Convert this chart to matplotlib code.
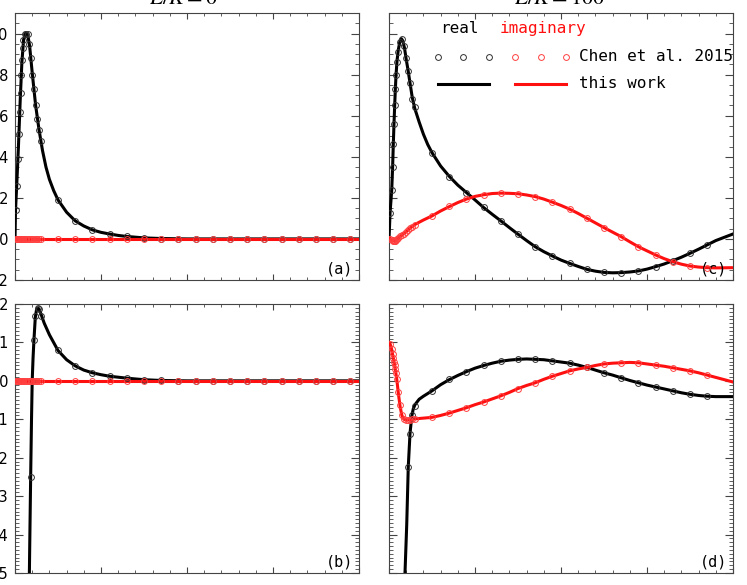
import numpy as np
import matplotlib
matplotlib.use("Agg")
import matplotlib.pyplot as plt
from matplotlib.ticker import MultipleLocator, FormatStrFormatter

plt.rcParams['mathtext.fontset'] = 'stix'

# ---- data ----
# sparse sample positions of the Chen et al. 2015 points
x_sparse_l = [2.5, 3.5, 4.5, 5.5, 6.5, 7.5, 8.5, 9.5, 10.5, 11.5, 12.5, 13.5,
              14.5, 15.5, 16.5, 17.5, 18.5, 19.5]
x_sparse_r = [2.5, 3.5, 4.5, 5.5, 6.5, 7.5, 8.5, 9.5, 10.5, 11.5, 12.5, 13.5,
              14.5, 15.5, 16.5, 17.5, 18.5]

# panel (a)  E/K = 0, upper quantity
a_dense_x = [0.03, 0.10, 0.17, 0.22, 0.27, 0.32, 0.37, 0.41, 0.45, 0.49, 0.56,
             0.64, 0.74, 0.83, 0.91, 1.01, 1.10, 1.20, 1.30, 1.40, 1.49]
a_re_dense = [0.14, 0.26, 0.39, 0.51, 0.62, 0.71, 0.80, 0.87, 0.93, 0.97, 1.00,
              1.00, 1.00, 0.95, 0.88, 0.80, 0.73, 0.65, 0.585, 0.53, 0.475]
a_im_dense = [0.0] * 21
a_re_sparse = [0.19, 0.088, 0.044, 0.024, 0.012, 0.005, 0.002, 0.0, 0.0, 0.0,
               0.0, 0.0, 0.0, 0.0, 0.0, 0.0, 0.0, 0.0]
a_im_sparse = [0.0] * 18
a_re_line_x = [0, 0.03, 0.1, 0.2, 0.3, 0.4, 0.5, 0.6, 0.68, 0.75, 0.85, 1.0, 1.2,
               1.4, 1.6, 1.8, 2.0, 2.25, 2.5, 3.0, 3.5, 4.0, 4.5, 5.0, 5.5, 6.0,
               6.5, 7.5, 8.5, 10, 20]
a_re_line = [0, 0.14, 0.26, 0.45, 0.67, 0.86, 0.97, 1.0, 1.0, 0.99, 0.94, 0.81,
             0.65, 0.53, 0.43, 0.35, 0.29, 0.235, 0.19, 0.13, 0.088, 0.063,
             0.044, 0.032, 0.024, 0.017, 0.012, 0.005, 0.002, 0.0, 0.0]
a_im_line_x = [0, 20]
a_im_line = [0.0, 0.0]

# panel (b)  E/K = 0, lower quantity
b_dense_x = [0.91, 1.01, 1.10, 1.18, 1.32, 1.41, 1.53]
b_re_dense = [-0.25, 0.0, 0.106, 0.17, 0.19, 0.187, 0.17]
b_im_dense_x = a_dense_x
b_im_dense = [0.0] * 21
b_re_sparse = [0.079, 0.039, 0.021, 0.012, 0.007, 0.003, 0.001, 0.0, 0.0, 0.0,
               0.0, 0.0, 0.0, 0.0, 0.0, 0.0, 0.0, 0.0]
b_im_sparse = [0.0] * 18
b_re_line_x = [0.78, 0.85, 0.91, 0.96, 1.0, 1.05, 1.1, 1.18, 1.25, 1.32, 1.4,
               1.5, 1.7, 2.0, 2.5, 3.0, 3.5, 4.0, 4.5, 5.0, 5.5, 6.5, 7.5, 8.5,
               10, 20]
b_re_line = [-0.7, -0.45, -0.25, -0.10, 0.0, 0.06, 0.105, 0.165, 0.185, 0.19,
             0.187, 0.175, 0.15, 0.12, 0.079, 0.055, 0.039, 0.028, 0.021, 0.016,
             0.012, 0.007, 0.003, 0.001, 0.0, 0.0]
b_im_line_x = [0, 20]
b_im_line = [0.0, 0.0]

# panel (c)  E/K = 100, upper quantity
c_dense_x = [0.06, 0.16, 0.21, 0.25, 0.29, 0.33, 0.37, 0.41, 0.47, 0.54, 0.64,
             0.74, 0.87, 0.99, 1.12, 1.22, 1.35, 1.49]
c_re_dense = [0.125, 0.24, 0.35, 0.46, 0.56, 0.65, 0.73, 0.80, 0.86, 0.91, 0.96,
              0.975, 0.94, 0.88, 0.82, 0.76, 0.68, 0.64]
c_im_dense = [0.0, -0.005, -0.007, -0.008, -0.009, -0.009, -0.008, -0.006,
              -0.002, 0.004, 0.012, 0.019, 0.026, 0.034, 0.045, 0.052, 0.060,
              0.069]
c_re_sparse = [0.42, 0.30, 0.226, 0.153, 0.088, 0.023, -0.038, -0.083, -0.119,
               -0.148, -0.163, -0.164, -0.156, -0.135, -0.106, -0.07, -0.029]
c_im_sparse = [0.112, 0.158, 0.194, 0.215, 0.223, 0.22, 0.206, 0.179, 0.145,
               0.101, 0.055, 0.011, -0.038, -0.078, -0.111, -0.132, -0.14]
c_re_line_x = [0, 0.03, 0.06, 0.16, 0.21, 0.25, 0.29, 0.33, 0.37, 0.41, 0.47,
               0.54, 0.64, 0.72, 0.8, 0.9, 1.0, 1.12, 1.22, 1.35, 1.5, 1.75, 2.0,
               2.25, 2.5, 3.0, 3.5, 4.0, 4.5, 5.0, 5.5, 6.0, 6.5, 7.0, 7.5, 8.0,
               8.5, 9.0, 9.5, 10.0, 10.5, 11.0, 11.5, 12.0, 12.5, 13.0, 13.5,
               14.0, 14.5, 15.0, 15.5, 16.0, 16.5, 17.0, 17.5, 18.0, 18.5, 19.0,
               19.5, 20.0]
c_re_line = [0.0, 0.06, 0.125, 0.24, 0.35, 0.46, 0.56, 0.65, 0.73, 0.80, 0.87,
             0.92, 0.965, 0.975, 0.965, 0.93, 0.875, 0.815, 0.76, 0.69, 0.635,
             0.57, 0.51, 0.46, 0.42, 0.355, 0.305, 0.262, 0.226, 0.19, 0.153,
             0.12, 0.088, 0.055, 0.023, -0.008, -0.038, -0.062, -0.083, -0.103,
             -0.119, -0.134, -0.148, -0.157, -0.163, -0.165, -0.164, -0.161,
             -0.156, -0.147, -0.135, -0.122, -0.106, -0.089, -0.07, -0.05,
             -0.029, -0.008, 0.008, 0.024]
c_im_line_x = [0, 0.1, 0.2, 0.3, 0.4, 0.5, 0.7, 1.0, 1.25, 1.5, 2.0, 2.5, 3.0,
               3.5, 4.0, 4.5, 5.0, 5.5, 6.0, 6.5, 7.0, 7.5, 8.0, 8.5, 9.0, 9.5,
               10.0, 10.5, 11.0, 11.5, 12.0, 12.5, 13.0, 13.5, 14.0, 14.5, 15.0,
               15.5, 16.0, 16.5, 17.0, 17.5, 18.0, 18.5, 19.0, 20.0]
c_im_line = [0.005, -0.003, -0.007, -0.009, -0.007, 0.0, 0.016, 0.035, 0.054,
             0.07, 0.092, 0.112, 0.136, 0.157, 0.177, 0.194, 0.207, 0.215,
             0.221, 0.223, 0.222, 0.22, 0.214, 0.206, 0.194, 0.179, 0.163,
             0.145, 0.124, 0.101, 0.078, 0.055, 0.033, 0.011, -0.014, -0.038,
             -0.058, -0.078, -0.096, -0.111, -0.123, -0.132, -0.137, -0.14,
             -0.141, -0.14]

# panel (d)  E/K = 100, lower quantity
d_dense_x = [1.12, 1.22, 1.35, 1.49]
d_re_dense = [-0.224, -0.138, -0.088, -0.066]
d_im_dense_x = c_dense_x
d_im_dense = [0.097, 0.083, 0.071, 0.06, 0.05, 0.04, 0.03, 0.02, 0.005, -0.03,
              -0.064, -0.088, -0.099, -0.102, -0.102, -0.101, -0.1, -0.099]
d_re_sparse = [-0.026, 0.004, 0.024, 0.04, 0.051, 0.056, 0.056, 0.052, 0.046,
               0.035, 0.021, 0.008, -0.005, -0.016, -0.026, -0.035, -0.04]
d_im_sparse = [-0.095, -0.084, -0.07, -0.055, -0.039, -0.02, -0.005, 0.012,
               0.026, 0.035, 0.044, 0.047, 0.047, 0.041, 0.034, 0.026, 0.015]
d_re_line_x = [0.88, 0.93, 1.03, 1.12, 1.22, 1.32, 1.41, 1.51, 1.75, 2.0, 2.5,
               3.0, 3.5, 4.0, 4.5, 5.0, 5.5, 6.0, 6.5, 7.0, 7.5, 8.0, 8.5, 9.0,
               9.5, 10.0, 10.5, 11.0, 11.5, 12.0, 12.5, 13.0, 13.5, 14.0, 14.5,
               15.0, 15.5, 16.0, 16.5, 17.0, 17.5, 18.0, 18.5, 19.0, 20.0]
d_re_line = [-0.6, -0.5, -0.375, -0.224, -0.138, -0.093, -0.073, -0.062,
             -0.048, -0.04, -0.026, -0.01, 0.003, 0.014, 0.024, 0.033, 0.04,
             0.046, 0.051, 0.054, 0.056, 0.057, 0.056, 0.055, 0.052, 0.049,
             0.046, 0.041, 0.035, 0.028, 0.021, 0.015, 0.008, 0.001, -0.005,
             -0.011, -0.016, -0.021, -0.026, -0.031, -0.035, -0.038, -0.04,
             -0.041, -0.041]
d_im_line_x = [0, 0.06, 0.15, 0.25, 0.35, 0.45, 0.55, 0.65, 0.75, 0.85, 1.0,
               1.25, 1.5, 2.0, 2.5, 3.0, 3.5, 4.0, 4.5, 5.0, 5.5, 6.0, 6.5, 7.0,
               7.5, 8.0, 8.5, 9.0, 9.5, 10.0, 10.5, 11.0, 11.5, 12.0, 12.5, 13.0,
               13.5, 14.0, 14.5, 15.0, 15.5, 16.0, 16.5, 17.0, 17.5, 18.0, 18.5,
               19.0, 19.5, 20.0]
d_im_line = [0.1, 0.097, 0.083, 0.06, 0.035, 0.005, -0.035, -0.068, -0.09,
             -0.099, -0.102, -0.101, -0.099, -0.097, -0.095, -0.09, -0.084,
             -0.077, -0.07, -0.062, -0.055, -0.047, -0.039, -0.03, -0.02,
             -0.012, -0.005, 0.004, 0.012, 0.019, 0.026, 0.031, 0.035, 0.04,
             0.044, 0.046, 0.047, 0.048, 0.047, 0.044, 0.041, 0.038, 0.034,
             0.03, 0.026, 0.021, 0.015, 0.009, 0.003, -0.003]

titles = [r"$E/K = 0$", r"$E/K = 100$"]
panel_tags = ["(a)", "(b)", "(c)", "(d)"]

RED = "#ff1010"
CIRC_K = "#303030"
CIRC_R = "#ff4040"

fig = plt.figure(figsize=(7.47, 5.85), dpi=100)
W, H = 747.0, 585.0


def add_ax(left, top, right, bottom):
    return fig.add_axes([left / W, 1 - bottom / H, (right - left) / W, (bottom - top) / H])


ax_a = add_ax(15, 13, 359, 280)
ax_c = add_ax(389, 13, 733, 280)
ax_b = add_ax(15, 304, 359, 573)
ax_d = add_ax(389, 304, 733, 573)

panels = [
    (ax_a, a_re_line_x, a_re_line, a_im_line_x, a_im_line,
     a_dense_x, a_re_dense, a_dense_x, a_im_dense,
     x_sparse_l, a_re_sparse, a_im_sparse),
    (ax_b, b_re_line_x, b_re_line, b_im_line_x, b_im_line,
     b_dense_x, b_re_dense, b_im_dense_x, b_im_dense,
     x_sparse_l, b_re_sparse, b_im_sparse),
    (ax_c, c_re_line_x, c_re_line, c_im_line_x, c_im_line,
     c_dense_x, c_re_dense, c_dense_x, c_im_dense,
     x_sparse_r, c_re_sparse, c_im_sparse),
    (ax_d, d_re_line_x, d_re_line, d_im_line_x, d_im_line,
     d_dense_x, d_re_dense, d_im_dense_x, d_im_dense,
     x_sparse_r, d_re_sparse, d_im_sparse),
]

circ = dict(ls="none", marker="o", ms=4.2, mfc="none", mew=0.7)

for (ax, rlx, rl, ilx, il, rdx, rd, idx, idd, xs, rs, ims) in panels:
    ax.plot(rlx, rl, color="black", lw=2.2, zorder=3)
    ax.plot(ilx, il, color=RED, lw=2.2, zorder=3)
    ax.plot(rdx, rd, color=CIRC_K, zorder=4, **circ)
    ax.plot(xs, rs, color=CIRC_K, zorder=4, **circ)
    ax.plot(idx, idd, color=CIRC_R, zorder=5, **circ)
    ax.plot(xs, ims, color=CIRC_R, zorder=5, **circ)

for ax in [ax_a, ax_b, ax_c, ax_d]:
    ax.set_xlim(0, 20)
    ax.xaxis.set_major_locator(MultipleLocator(5))
    ax.xaxis.set_minor_locator(MultipleLocator(1))
    if ax in (ax_a, ax_c):
        ax.set_ylim(-0.2, 1.1)
        ax.yaxis.set_major_locator(MultipleLocator(0.2))
        ax.yaxis.set_minor_locator(MultipleLocator(0.05))
    else:
        ax.set_ylim(-0.5, 0.2)
        ax.yaxis.set_major_locator(MultipleLocator(0.1))
        ax.yaxis.set_minor_locator(MultipleLocator(0.01))
    ax.yaxis.set_major_formatter(FormatStrFormatter("%.1f"))
    ax.tick_params(which="both", direction="in", top=True, right=True,
                   labelbottom=False, labelleft=ax in (ax_a, ax_b),
                   labelsize=10.5, pad=5, color="#444444")
    ax.tick_params(axis="y", which="major", length=6)
    ax.tick_params(axis="y", which="minor", length=3)
    ax.tick_params(axis="x", which="major", length=4)
    ax.tick_params(axis="x", which="minor", length=2)
    for sp in ax.spines.values():
        sp.set_linewidth(0.8)
        sp.set_color("#444444")

for ax, tag in zip([ax_a, ax_b, ax_c, ax_d], panel_tags):
    ax.text(0.983, 0.012, tag, transform=ax.transAxes, ha="right", va="bottom",
            fontsize=11, family="DejaVu Sans Mono")

# titles, partly outside the top edge as in the original
fig.text(183 / W, 1 - 4.5 / H, titles[0], ha="center", va="baseline", fontsize=16)
fig.text(560 / W, 1 - 4.5 / H, titles[1], ha="center", va="baseline", fontsize=16)

# legend drawn inside panel (c)
mono = dict(family="DejaVu Sans Mono", fontsize=11.5)
ax_c.text(0.206, 0.942, "real", transform=ax_c.transAxes, ha="center", va="center",
          color="black", **mono)
ax_c.text(0.448, 0.942, "imaginary", transform=ax_c.transAxes, ha="center",
          va="center", color=RED, **mono)
ax_c.plot([0.1416, 0.216, 0.2907], [0.836] * 3, transform=ax_c.transAxes,
          color=CIRC_K, clip_on=False, **circ)
ax_c.plot([0.366, 0.441, 0.5145], [0.836] * 3, transform=ax_c.transAxes,
          color=CIRC_R, clip_on=False, **circ)
ax_c.plot([0.142, 0.291], [0.735] * 2, transform=ax_c.transAxes, color="black", lw=2.2)
ax_c.plot([0.366, 0.515], [0.735] * 2, transform=ax_c.transAxes, color=RED, lw=2.2)
ax_c.text(0.552, 0.836, "Chen et al. 2015", transform=ax_c.transAxes, ha="left",
          va="center", **mono)
ax_c.text(0.552, 0.735, "this work", transform=ax_c.transAxes, ha="left",
          va="center", **mono)

fig.savefig("out.png", dpi=100)
